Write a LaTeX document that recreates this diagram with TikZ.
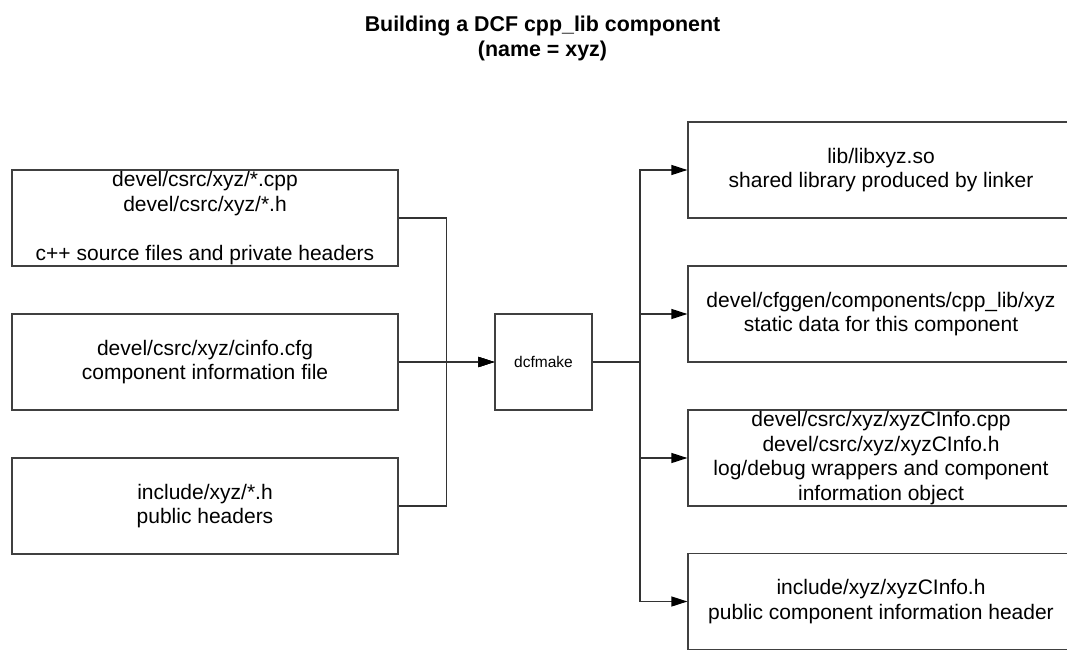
\documentclass[tikz,border=0pt]{standalone}
\usepackage{fontspec}
\setmainfont{Liberation Sans}
\usetikzlibrary{arrows.meta}
\begin{document}
\begin{tikzpicture}[x=1pt,y=-1pt,
  boxtext/.style={font=\fontsize{21}{24.4}\selectfont},
  filebox/.style={draw=black!75, line width=1.2pt, rectangle, minimum width=386pt, minimum height=96pt, inner sep=0pt, align=center, boxtext},
  toolbox/.style={draw=black!75, line width=1.2pt, rectangle, minimum width=97pt, minimum height=96pt, inner sep=0pt, align=center, font=\fontsize{15.5}{18}\selectfont},
  conn/.style={draw=black!80, line width=1.2pt, -{Triangle[length=16pt,width=10pt,color=black]}},
  titletext/.style={align=center, inner sep=0pt, font=\fontsize{21.4}{25}\selectfont\bfseries}
]
\useasboundingbox (0,0) rectangle (1067,650);

\node[titletext] (title) at (542.5,38) {Building a DCF cpp\_lib component\\(name = xyz)};

\node[filebox] (l1) at (205,218) {devel/csrc/xyz/*.cpp\\devel/csrc/xyz/*.h\\\mbox{}\\c++ source files and private headers};
\node[filebox] (l2) at (205,362) {devel/csrc/xyz/cinfo.cfg\\component information file};
\node[filebox] (l3) at (205,506) {include/xyz/*.h\\public headers};

\node[toolbox] (dcf) at (543.5,362) {dcfmake};

\node[filebox] (r1) at (881,170) {lib/libxyz.so\\shared library produced by linker};
\node[filebox] (r2) at (881,314) {devel/cfggen/components/cpp\_lib/xyz\\static data for this component};
\node[filebox] (r3) at (881,458) {devel/csrc/xyz/xyzCInfo.cpp\\devel/csrc/xyz/xyzCInfo.h\\log/debug wrappers and component\\information object};
\node[filebox] (r4) at (881,601.5) {include/xyz/xyzCInfo.h\\public component information header};

\coordinate (lbus) at (446.7,362);
\coordinate (rbus) at (640,362);

\draw[conn] (l1.east) -- (l1.east -| lbus) |- (dcf.west);
\draw[conn] (l2.east) -- (dcf.west);
\draw[conn] (l3.east) -- (l3.east -| lbus) |- (dcf.west);

\draw[conn] (dcf.east) -- (rbus) |- (r1.west);
\draw[conn] (dcf.east) -- (rbus) |- (r2.west);
\draw[conn] (dcf.east) -- (rbus) |- (r3.west);
\draw[conn] (dcf.east) -- (rbus) |- (r4.west);
\end{tikzpicture}
\end{document}
